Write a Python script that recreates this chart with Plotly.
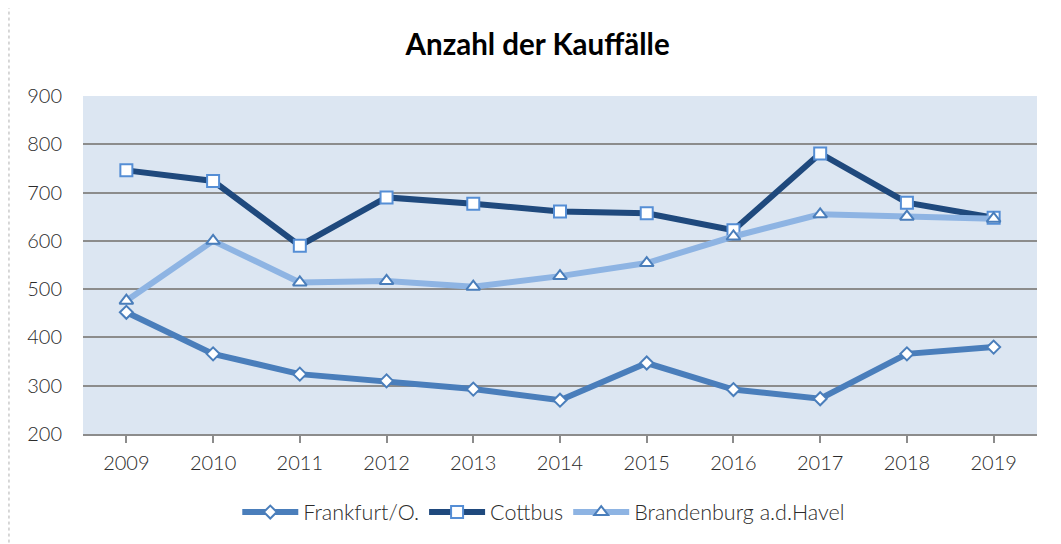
import plotly.graph_objects as go

jahre = ["2009", "2010", "2011", "2012", "2013", "2014", "2015", "2016", "2017", "2018", "2019"]
frankfurt = [452, 366, 324, 310, 293, 270, 347, 292, 273, 366, 380]
cottbus = [746, 724, 590, 690, 677, 661, 657, 622, 781, 679, 648]
brandenburg = [476, 600, 514, 517, 505, 527, 554, 609, 655, 650, 646]

fig = go.Figure()

fig.add_trace(go.Scatter(
    x=jahre, y=frankfurt, name="Frankfurt/O.", mode="lines+markers",
    line=dict(color="#4a7ebb", width=6),
    marker=dict(symbol="diamond", size=10, color="white",
                line=dict(color="#4a7ebb", width=2))
))
fig.add_trace(go.Scatter(
    x=jahre, y=cottbus, name="Cottbus", mode="lines+markers",
    line=dict(color="#1f497d", width=6),
    marker=dict(symbol="square", size=12, color="white",
                line=dict(color="#558ed5", width=2))
))
fig.add_trace(go.Scatter(
    x=jahre, y=brandenburg, name="Brandenburg a.d.Havel", mode="lines+markers",
    line=dict(color="#8eb4e3", width=6),
    marker=dict(symbol="triangle-up", size=12, color="white",
                line=dict(color="#4a7ebb", width=2))
))

# page body has an 8px margin, so the figure is made 8px smaller
fig.update_layout(
    width=1053, height=536,
    margin=dict(l=75, r=24, t=88, b=110),
    paper_bgcolor="white",
    plot_bgcolor="#dce6f2",
    font=dict(family="Lato", size=20, color="#2b2b2b", weight=300),
    title=dict(text="<b>Anzahl der Kauffälle</b>", x=0.503, xanchor="center",
               y=0.932, yanchor="middle",
               font=dict(family="Lato", size=29.5, color="black")),
    showlegend=True,
    legend=dict(orientation="h", x=0.483, xanchor="center", y=-0.231, yanchor="middle",
                font=dict(size=21.5, color="#2b2b2b"), itemwidth=56, tracegroupgap=0),
    xaxis=dict(
        type="category", range=[-0.5, 10.5],
        showgrid=False, showline=True, linecolor="#8c8c8c", linewidth=2,
        ticks="outside", ticklen=7, tickcolor="#8c8c8c", tickwidth=1.5,
        ticklabelstandoff=3,
    ),
    yaxis=dict(
        range=[200, 900], dtick=100,
        showgrid=True, gridcolor="#8c8c8c", gridwidth=2,
        zeroline=False, showline=False,
        ticklabelstandoff=20,
    ),
    shapes=[dict(type="rect", xref="paper", yref="paper",
                 x0=-0.0776, x1=1.05, y0=-0.4, y1=1.263,
                 line=dict(color="#b0b0b0", width=1, dash="dot"),
                 fillcolor="rgba(0,0,0,0)", layer="below")],
)

fig.write_html("out.html")
